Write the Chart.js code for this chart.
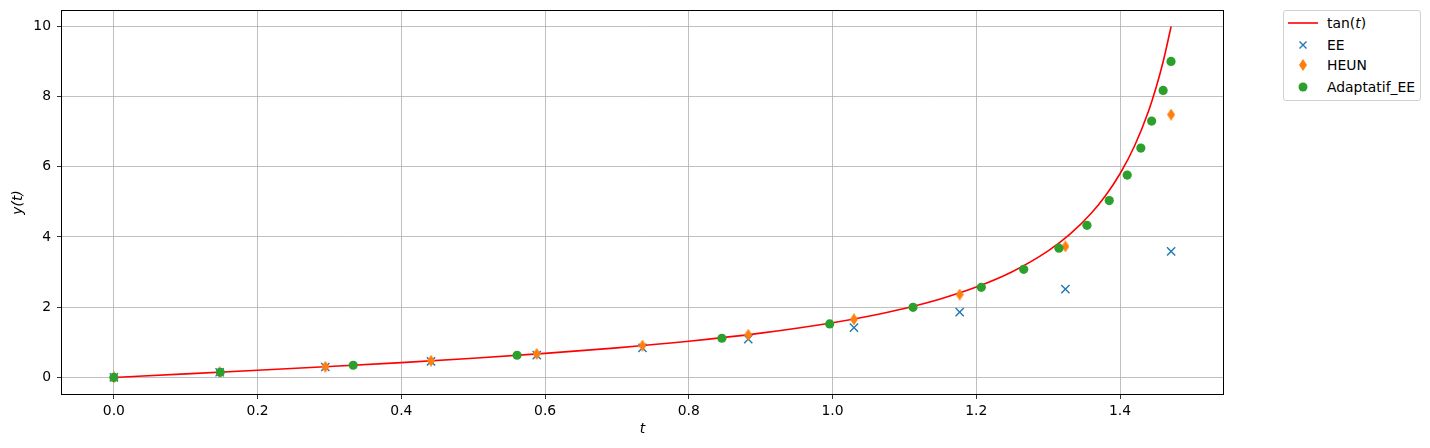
<!DOCTYPE html>
<html>
<head>
<meta charset="utf-8">
<script src="https://cdn.jsdelivr.net/npm/chart.js@4/dist/chart.umd.min.js"></script>
<style>
  html, body { margin: 0; padding: 0; background: #fff; }
  #wrap { position: relative; width: 1430px; height: 448px; }
  #legend {
    position: absolute; left: 1283px; top: 10px; width: 136px; height: 89px;
    border: 1px solid #d0d0d0; border-radius: 3px; background: #fff;
    font-family: "DejaVu Sans", sans-serif; font-size: 13.9px; color: #000;
  }
  #legend .row { position: absolute; left: 0; height: 20px; line-height: 20px; }
  #legend svg { position: absolute; left: 2px; top: 0; }
  #legend span { position: absolute; left: 43px; white-space: nowrap; }
</style>
</head>
<body>
<div id="wrap">
  <canvas id="chart" width="1430" height="448"></canvas>
  <div id="legend"></div>
</div>
<script>
// tan(t) curve
const curveT   = [0, 0.1, 0.2, 0.3, 0.4, 0.5, 0.6, 0.7, 0.8, 0.9, 1.0, 1.05, 1.1, 1.15, 1.2, 1.25, 1.3, 1.33, 1.36, 1.38, 1.40, 1.42, 1.44, 1.45, 1.46, 1.4711];
const curveTan = [0, 0.1003, 0.2027, 0.3093, 0.4228, 0.5463, 0.6841, 0.8423, 1.0296, 1.2602, 1.5574, 1.7433, 1.9648, 2.2345, 2.5722, 3.0096, 3.6021, 4.0713, 4.673, 5.179, 5.798, 6.581, 7.602, 8.238, 8.986, 9.99];

// fixed-step points (EE and HEUN share the same t)
const stepT      = [0, 0.1471, 0.2942, 0.4413, 0.5884, 0.7355, 0.8827, 1.0298, 1.1769, 1.3240, 1.4711];
const eeValues   = [0, 0.147, 0.297, 0.458, 0.635, 0.842, 1.093, 1.416, 1.859, 2.514, 3.590];
const heunValues = [0, 0.149, 0.304, 0.474, 0.669, 0.906, 1.215, 1.654, 2.360, 3.730, 7.482];

// adaptive step points
const adaptT = [0, 0.148, 0.333, 0.561, 0.846, 0.996, 1.112, 1.207, 1.266, 1.315, 1.354, 1.385, 1.410, 1.429, 1.444, 1.460, 1.471];
const adaptY = [0, 0.148, 0.347, 0.632, 1.115, 1.522, 1.997, 2.566, 3.078, 3.679, 4.330, 5.036, 5.761, 6.529, 7.297, 8.171, 8.996];

const xTicks = [0, 0.2, 0.4, 0.6, 0.8, 1.0, 1.2, 1.4];
const yTicks = [0, 2, 4, 6, 8, 10];

const seriesNames = ['tan(t)', 'EE', 'HEUN', 'Adaptatif_EE'];
const RED = '#ff0000', BLUE = '#1f77b4', ORANGE = '#ff7f0e', GREEN = '#2ca02c';
const FONT = '"DejaVu Sans", sans-serif';

const pts = (xs, ys) => xs.map((x, i) => ({ x: x, y: ys[i] }));

// matplotlib 'd' thin diamond as a pointStyle image
function thinDiamond(w, h, color) {
    const c = document.createElement('canvas');
    c.width = w; c.height = h;
    const g = c.getContext('2d');
    g.fillStyle = color;
    g.beginPath();
    g.moveTo(w / 2, 0); g.lineTo(w, h / 2); g.lineTo(w / 2, h); g.lineTo(0, h / 2);
    g.closePath(); g.fill();
    return c;
}
const diamondImg = thinDiamond(8, 12, ORANGE);

// full box around the plot area, like matplotlib spines
const frame = {
    id: 'frame',
    afterDatasetsDraw(chart) {
        const { ctx, chartArea: a } = chart;
        ctx.save();
        ctx.strokeStyle = '#000';
        ctx.lineWidth = 1;
        ctx.strokeRect(a.left + 0.5, a.top + 0.5, a.right - a.left - 1, a.bottom - a.top - 1);
        ctx.restore();
    }
};

const fixTicks = vals => scale => { scale.ticks = vals.map(v => ({ value: v })); };

new Chart(document.getElementById('chart').getContext('2d'), {
    type: 'scatter',
    data: {
        datasets: [
            {
                label: seriesNames[0], data: pts(curveT, curveTan), showLine: true,
                borderColor: RED, borderWidth: 1.6, pointRadius: 0,
                cubicInterpolationMode: 'monotone', order: 3
            },
            {
                label: seriesNames[1], data: pts(stepT, eeValues),
                pointStyle: 'crossRot', pointRadius: 5.8, borderColor: BLUE,
                pointBorderWidth: 1.4, order: 2
            },
            {
                label: seriesNames[2], data: pts(stepT, heunValues),
                pointStyle: diamondImg, order: 1
            },
            {
                label: seriesNames[3], data: pts(adaptT, adaptY),
                pointStyle: 'circle', pointRadius: 4.6, backgroundColor: GREEN,
                borderColor: GREEN, pointBorderWidth: 0, order: 0
            }
        ]
    },
    options: {
        responsive: false,
        animation: false,
        devicePixelRatio: 1,
        layout: { padding: { left: 0, top: 10, right: 206, bottom: 0 } },
        plugins: { legend: { display: false }, tooltip: { enabled: false } },
        scales: {
            x: {
                type: 'linear', min: -0.0736, max: 1.5447,
                afterBuildTicks: fixTicks(xTicks),
                afterFit: s => { s.height = 53; s.paddingLeft = 0; s.paddingRight = 0; },
                grid: { color: '#b0b0b0', lineWidth: 0.8, tickColor: '#000', tickLength: 4 },
                border: { display: false },
                ticks: { color: '#000', font: { family: FONT, size: 13.9 }, padding: 4,
                         maxRotation: 0, callback: v => v.toFixed(1) },
                title: { display: true, text: 't', color: '#000',
                         font: { family: FONT, size: 13.9, style: 'italic' },
                         padding: { top: 4, bottom: 10 } }
            },
            y: {
                type: 'linear', min: -0.5, max: 10.46,
                afterBuildTicks: fixTicks(yTicks),
                afterFit: s => { s.width = 61; s.paddingTop = 0; s.paddingBottom = 0; },
                grid: { color: '#b0b0b0', lineWidth: 0.8, tickColor: '#000', tickLength: 4 },
                border: { display: false },
                ticks: { color: '#000', font: { family: FONT, size: 13.9 }, padding: 6,
                         callback: v => String(v) },
                title: { display: true, text: 'y(t)', color: '#000',
                         font: { family: FONT, size: 13.9, style: 'italic' },
                         padding: { top: 10, bottom: 4 } }
            }
        }
    },
    plugins: [frame]
});

// legend, drawn outside the plot on the right like bbox_to_anchor
const legendMarks = [
    '<svg width="36" height="20"><line x1="2" y1="10" x2="32" y2="10" stroke="' + RED + '" stroke-width="1.6"/></svg>',
    '<svg width="36" height="20"><path d="M13.5 6.5 L20.5 13.5 M20.5 6.5 L13.5 13.5" stroke="' + BLUE + '" stroke-width="1.4"/></svg>',
    '<svg width="36" height="20"><path d="M17 4 L21 10 L17 16 L13 10 Z" fill="' + ORANGE + '"/></svg>',
    '<svg width="36" height="20"><circle cx="17" cy="10" r="4.5" fill="' + GREEN + '"/></svg>'
];
const rowTops = [2, 24, 44, 66];
const legendLabels = ['tan(<i>t</i>)', seriesNames[1], seriesNames[2], seriesNames[3]];
document.getElementById('legend').innerHTML = legendLabels.map((txt, i) =>
    '<div class="row" style="top:' + rowTops[i] + 'px">' + legendMarks[i] + '<span>' + txt + '</span></div>'
).join('');
</script>
</body>
</html>
